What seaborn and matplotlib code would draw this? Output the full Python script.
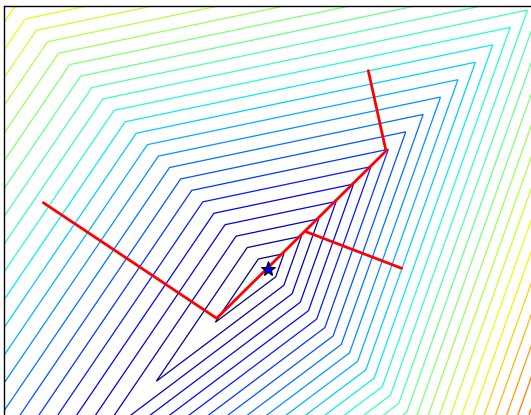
import numpy as np
import matplotlib
matplotlib.use("Agg")
import matplotlib.pyplot as plt
import seaborn as sns

# Minimiser of the piecewise-linear objective (plot coordinates)
star_xy = [268.3, 269.3]

# Kink directions through the minimiser
kink_a_dir = [1.0, -1.0]     # ridge running up-right
kink_b_dir = [1.0, 1.03]     # ridge running down-right

# Distance along each ridge arm between successive contour levels
arm_a_pos = 17.4   # up-right arm
arm_a_neg = 59.0   # down-left arm
arm_b_pos = 8.2    # down-right arm
arm_b_neg = 11.1   # up-left arm

# Contour levels
first_level = 0.9
n_levels = 45
color_top = 34.5

# Descent path and the extra step
path_x = [43.3, 216.7, 386.0, 368.3]
path_y = [202.7, 318.3, 151.0, 70.7]
branch_x = [306.0, 401.7]
branch_y = [231.7, 268.3]

sns.set_style("white")

x = np.linspace(0, 540, 1081)
y = np.linspace(0, 430, 861)
X, Y = np.meshgrid(x, y)
dx = X - star_xy[0]
dy = Y - star_xy[1]
ax_, ay_ = kink_a_dir
bx_, by_ = kink_b_dir
det = ax_ * by_ - ay_ * bx_
s = (dx * by_ - dy * bx_) / det
t = (ax_ * dy - ay_ * dx) / det
Z = (np.clip(s, 0, None) / arm_a_pos + np.clip(-s, 0, None) / arm_a_neg
     + np.clip(t, 0, None) / arm_b_pos + np.clip(-t, 0, None) / arm_b_neg)

levels = first_level + np.arange(n_levels)

fig = plt.figure(figsize=(5.31, 4.15), dpi=100)
ax = fig.add_axes([4 / 531, -4 / 415, 1.0, 413 / 415])
ax.contour(X, Y, Z, levels=levels, cmap="jet", vmin=first_level, vmax=color_top,
           linewidths=0.9)

sns.lineplot(x=path_x, y=path_y, sort=False, estimator=None, color="red",
             linewidth=2.0, ax=ax)
sns.lineplot(x=branch_x, y=branch_y, sort=False, estimator=None, color="red",
             linewidth=2.0, ax=ax)
ax.plot([star_xy[0]], [star_xy[1]], marker="*", markersize=11,
        markerfacecolor="blue", markeredgecolor="black", markeredgewidth=0.8,
        linestyle="none", zorder=5)

ax.set_xlim(4, 535)
ax.set_ylim(419, 6)
ax.set_xticks([])
ax.set_yticks([])
for side in ["top", "left"]:
    ax.spines[side].set_color("black")
    ax.spines[side].set_linewidth(1.0)

fig.savefig("out.png", dpi=100)
